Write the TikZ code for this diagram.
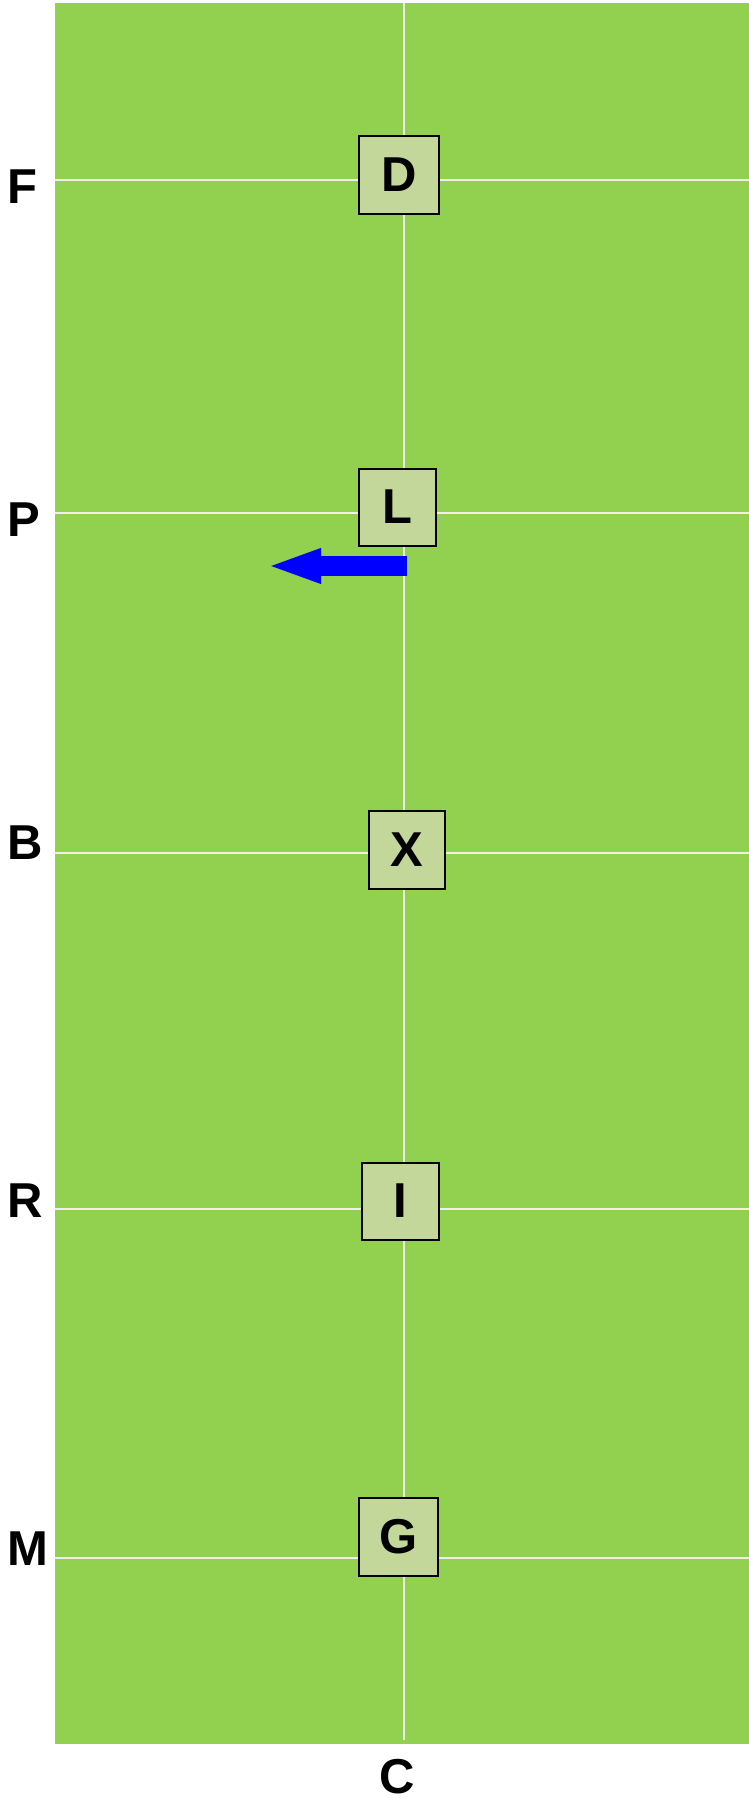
\documentclass[tikz,border=0pt]{standalone}
\usepackage{fontspec}
\setmainfont{Liberation Sans}
\usetikzlibrary{arrows.meta}
\definecolor{pitch}{HTML}{92D050}
\definecolor{cellfill}{HTML}{C4D79B}
\definecolor{chalk}{HTML}{F0F0E8}
\tikzset{
  gridline/.style={draw=chalk, line width=2pt},
  cell/.style={draw=black, line width=2pt, fill=cellfill, minimum width=77pt,
    minimum height=77pt, inner sep=0pt, font=\fontsize{49}{49}\selectfont\bfseries},
  rowlab/.style={anchor=west, inner sep=0pt, font=\fontsize{49}{49}\selectfont\bfseries}
}
\begin{document}
\begin{tikzpicture}[x=1pt, y=-1pt]
  \useasboundingbox (0,0) rectangle (749,1803);
  \fill[pitch] (55,3.5) rectangle (749,1744);

  % lines across
  \draw[gridline] (55,180.5) -- (749,180.5);
  \draw[gridline] (55,513)   -- (749,513);
  \draw[gridline] (55,852.5) -- (749,852.5);
  \draw[gridline] (55,1209)  -- (749,1209);
  \draw[gridline] (55,1558)  -- (749,1558);
  \draw[gridline] (404,3.5)  -- (404,1740);

  % row labels
  \node[rowlab] (labF) at (7,187)  {F};
  \node[rowlab] (labP) at (7,520)  {P};
  \node[rowlab] (labB) at (7,843)  {B};
  \node[rowlab] (labR) at (7,1201) {R};
  \node[rowlab] (labM) at (7,1549) {M};
  \node[font=\fontsize{49}{49}\selectfont\bfseries, inner sep=0pt] (labC) at (397,1777) {C};

  % the boxes
  \node[cell, minimum width=80pt, minimum height=78pt] (D) at (399,175) {D};
  \node[cell] (L) at (397.5,507) {L};
  \node[cell, minimum width=76pt, minimum height=78pt] (X) at (407,850) {X};
  \node[cell] (I) at (400,1201) {I};
  \node[cell, minimum width=79pt, minimum height=78pt] (G) at (398.5,1537) {G};

  % move
  \coordinate (mvfrom) at (406.5,566);
  \coordinate (mvto)   at (266,566);
  \draw[blue, line width=20pt, -{Triangle[length=55pt, width=31pt]}] (mvfrom) -- (mvto);
\end{tikzpicture}
\end{document}
